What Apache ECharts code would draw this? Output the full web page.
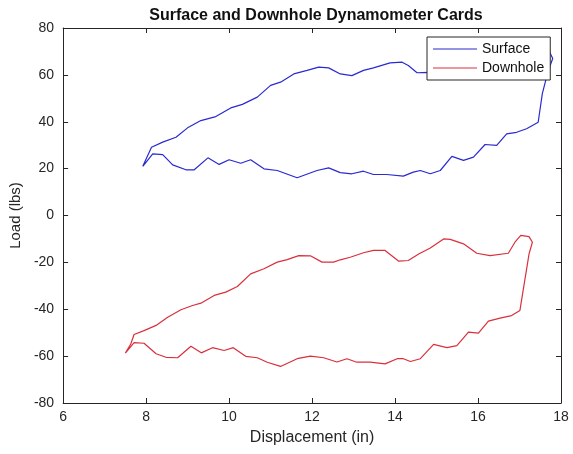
<!DOCTYPE html>
<html><head><meta charset="utf-8">
<script src="https://cdn.jsdelivr.net/npm/echarts@6/dist/echarts.min.js"></script>
<style>html,body{margin:0;padding:0;background:#fff}#c{width:573px;height:454px}</style>
</head><body><div id="c"></div>
<script>
var xTicks = [6, 8, 10, 12, 14, 16, 18];
var yTicks = [-80, -60, -40, -20, 0, 20, 40, 60, 80];

var surfaceX = [7.92,8.13,8.40,8.72,9.00,9.32,9.68,10.04,10.32,10.68,11.00,11.24,11.56,11.88,12.16,12.40,12.68,12.96,13.24,13.48,13.88,14.17,14.32,14.53,14.80,15.30,15.90,16.50,17.10,17.55,17.72,17.80,17.68,17.55,17.45,
  17.17,16.93,16.69,16.45,16.17,15.89,15.65,15.37,15.09,14.85,14.61,14.44,14.20,13.80,13.48,13.24,12.96,12.68,12.40,12.12,11.64,11.16,10.84,10.52,10.28,10.00,9.76,9.49,9.16,8.96,8.64,8.40,8.16,7.92];
var surfaceY = [21,29.1,31.3,33.4,37.4,40.5,42.2,45.9,47.4,50.5,55.5,56.9,60.4,61.9,63.3,63.0,60.4,59.7,61.9,63.0,65.1,65.4,64.0,60.9,61.1,61,62,63,64,66,70,67,61,52,39.8,
  37,35.5,34.8,29.9,30.3,24.9,23.5,25.2,19.2,17.8,19.2,18.5,16.8,17.5,17.5,18.9,17.8,18.3,20.3,19.2,16.1,19.2,19.9,23.8,22.3,23.8,21.8,24.6,19.5,19.5,21.6,26,26.3,21];

var downholeX = [7.50,7.63,7.71,7.95,8.24,8.52,8.84,9.12,9.32,9.64,9.92,10.20,10.52,10.84,11.16,11.40,11.68,11.96,12.24,12.52,12.68,12.92,13.24,13.48,13.76,14.09,14.32,14.57,14.85,15.17,15.33,15.65,15.97,16.29,16.73,16.89,17.03,17.23,17.31,17.23,17.01,
  16.81,16.53,16.25,16.01,15.77,15.49,15.25,14.93,14.61,14.37,14.20,14.05,13.76,13.40,13.08,12.84,12.60,12.28,11.96,11.64,11.24,10.92,10.68,10.40,10.10,9.88,9.60,9.33,9.08,8.76,8.48,8.24,7.95,7.71,7.50];
var downholeY = [-58.7,-54.8,-50.8,-49.1,-46.9,-43.4,-40.2,-38.4,-37.4,-34.1,-32.7,-30.3,-24.9,-22.7,-19.9,-18.8,-17.1,-17.2,-19.9,-19.9,-18.9,-17.8,-15.9,-14.9,-14.9,-19.5,-19.2,-16.4,-13.9,-10,-10.2,-12.1,-16.1,-17.1,-16.1,-11.4,-8.5,-9,-11.4,-16.4,-40.5,
  -42.7,-43.8,-45.1,-50.2,-49.8,-55.5,-56.4,-55,-61.1,-62.3,-61.1,-61.1,-63.3,-62.6,-62.6,-61.1,-62.5,-60.7,-60,-61.1,-64.4,-62.6,-60.7,-60.1,-56.4,-57.6,-56.4,-58.6,-55.8,-60.7,-60.5,-59,-54.5,-54.2,-58.7];

function pairs(xs, ys){ return xs.map(function(x,i){ return [x, ys[i]]; }); }

var axisColor = '#262626';
var font = 'Liberation Sans, Arial, sans-serif';
function xAx(pos, labels){
  return {type:'value', min:xTicks[0], max:xTicks[xTicks.length-1], interval:2, position:pos,
    axisLine:{show:true, onZero:false, lineStyle:{color:axisColor, width:1}},
    axisTick:{show:true, inside:true, length:5, lineStyle:{color:axisColor}},
    splitLine:{show:false},
    axisLabel:{show:labels, color:axisColor, fontSize:14, fontFamily:font, margin:7},
    name: labels ? 'Displacement (in)' : '', nameLocation:'middle', nameGap:27,
    nameTextStyle:{color:axisColor, fontSize:16, fontFamily:font}};
}
function yAx(pos, labels){
  return {type:'value', min:yTicks[0], max:yTicks[yTicks.length-1], interval:20, position:pos,
    axisLine:{show:true, onZero:false, lineStyle:{color:axisColor, width:1}},
    axisTick:{show:true, inside:true, length:5, lineStyle:{color:axisColor}},
    splitLine:{show:false},
    axisLabel:{show:labels, color:axisColor, fontSize:14, fontFamily:font, margin:9},
    name: labels ? 'Load (lbs)' : '', nameLocation:'middle', nameGap:35,
    nameTextStyle:{color:axisColor, fontSize:15, fontFamily:font}};
}

var chart = echarts.init(document.getElementById('c'), null, {renderer:'canvas'});
chart.setOption({
  animation:false,
  backgroundColor:'#fff',
  title:{text:'Surface and Downhole Dynamometer Cards', left:311, textAlign:'center', top:3,
    textStyle:{fontSize:16, fontWeight:'bold', color:'#111', fontFamily:font}},
  grid:{left:62, right:12, top:28, bottom:51, containLabel:false},
  xAxis:[xAx('bottom', true), xAx('top', false)],
  yAxis:[yAx('left', true), yAx('right', false)],
  legend:{left:427, top:37, orient:'vertical', icon:'rect', itemWidth:44, itemHeight:1, itemGap:5,
    padding:[5,6,5,6], borderColor:'#262626', borderWidth:1, backgroundColor:'#fff', borderRadius:0,
    textStyle:{fontSize:14, color:'#111', fontFamily:font},
    data:['Surface','Downhole']},
  series:[
    {name:'Surface', type:'line', symbol:'none', data:pairs(surfaceX, surfaceY),
      lineStyle:{color:'#2a2ad0', width:1.2}, itemStyle:{color:'#2a2ad0'}},
    {name:'Downhole', type:'line', symbol:'none', data:pairs(downholeX, downholeY),
      lineStyle:{color:'#d9303c', width:1.2}, itemStyle:{color:'#d9303c'}}
  ]
});
</script></body></html>
